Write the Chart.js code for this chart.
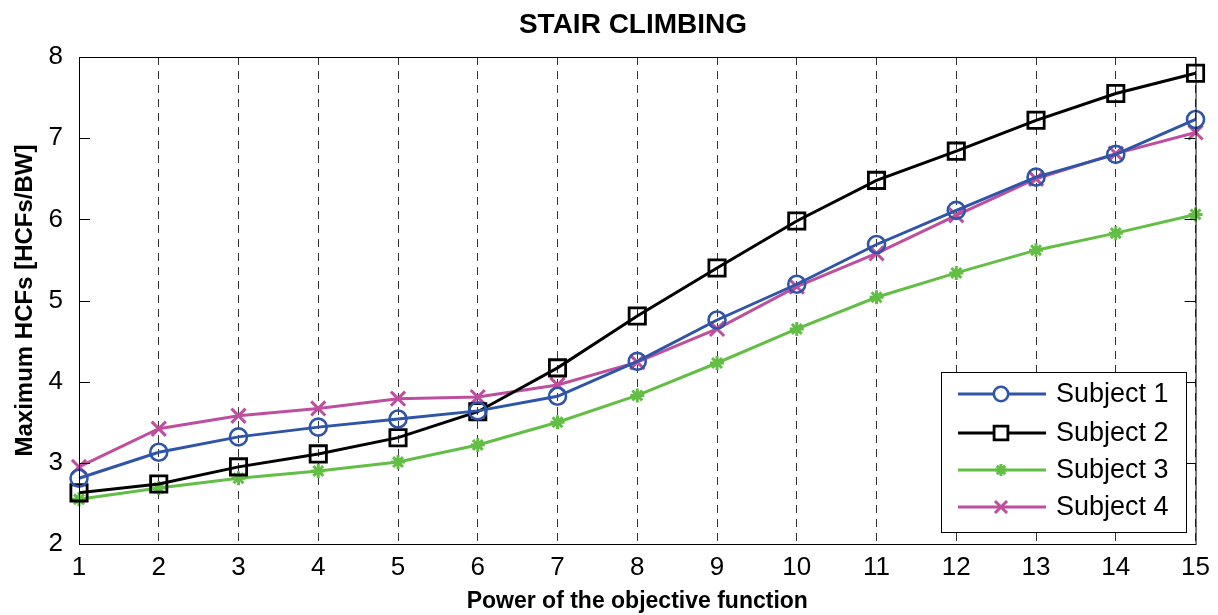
<!DOCTYPE html>
<html>
<head>
<meta charset="utf-8">
<script src="https://cdn.jsdelivr.net/npm/chart.js@4/dist/chart.umd.min.js"></script>
<style>
  html, body { margin: 0; padding: 0; background: #fff; }
  #wrap { width: 1218px; height: 615px; }
</style>
</head>
<body>
<div id="wrap"><canvas id="stairChart" width="1218" height="615"></canvas></div>
<script>
const powers = ['1','2','3','4','5','6','7','8','9','10','11','12','13','14','15'];
const subject1 = [2.81, 3.13, 3.32, 3.44, 3.54, 3.64, 3.82, 4.25, 4.76, 5.20, 5.69, 6.11, 6.52, 6.80, 7.23];
const subject2 = [2.63, 2.74, 2.95, 3.11, 3.31, 3.63, 4.17, 4.81, 5.40, 5.98, 6.48, 6.84, 7.22, 7.55, 7.80];
const subject3 = [2.55, 2.69, 2.81, 2.90, 3.01, 3.22, 3.50, 3.83, 4.23, 4.65, 5.04, 5.34, 5.62, 5.83, 6.06];
const subject4 = [2.95, 3.42, 3.58, 3.67, 3.79, 3.81, 3.96, 4.24, 4.65, 5.17, 5.58, 6.05, 6.50, 6.81, 7.07];
const yTicks = [2, 3, 4, 5, 6, 7, 8];

const FONT = '"Liberation Sans", Arial, sans-serif';
const BLUE = '#2f55a8';
const GREEN = '#62be44';
const MAGENTA = '#be4f9e';

function series(label, data, color, style, radius, bw) {
    return {
        label: label,
        data: data,
        borderColor: color,
        backgroundColor: 'rgba(0,0,0,0)',
        borderWidth: 3,
        pointStyle: style,
        pointRadius: radius,
        pointHoverRadius: radius,
        pointBorderWidth: bw,
        pointBorderColor: color,
        pointBackgroundColor: 'rgba(0,0,0,0)',
        tension: 0
    };
}

// box, inner ticks, title and legend drawn like the matlab figure
const matlabFrame = {
    id: 'matlabFrame',
    afterDraw(chart) {
        const ctx = chart.ctx;
        const a = chart.chartArea;
        const ys = chart.scales.y;
        ctx.save();
        ctx.strokeStyle = '#000';
        ctx.lineWidth = 1;
        ctx.strokeRect(a.left + 0.5, a.top + 0.5, a.right - a.left, a.bottom - a.top);
        yTicks.forEach(v => {
            const py = Math.round(ys.getPixelForValue(v)) + 0.5;
            ctx.beginPath();
            ctx.moveTo(a.left, py); ctx.lineTo(a.left + 11, py);
            ctx.moveTo(a.right, py); ctx.lineTo(a.right - 11, py);
            ctx.stroke();
        });

        // title
        ctx.fillStyle = '#000';
        ctx.font = 'bold 28px ' + FONT;
        ctx.textAlign = 'center';
        ctx.textBaseline = 'middle';
        ctx.fillText('STAIR CLIMBING', 633, 25);

        // legend
        const lx = 941, ly = 372, lw = 245, lh = 160;
        ctx.fillStyle = '#fff';
        ctx.fillRect(lx, ly, lw, lh);
        ctx.strokeStyle = '#000';
        ctx.lineWidth = 1;
        ctx.strokeRect(lx + 0.5, ly + 0.5, lw, lh);
        const rows = [394, 433, 470, 507];
        ctx.font = '27px ' + FONT;
        ctx.textAlign = 'left';
        chart.data.datasets.forEach((ds, i) => {
            const y = rows[i];
            ctx.strokeStyle = ds.borderColor;
            ctx.lineWidth = 3;
            ctx.beginPath();
            ctx.moveTo(958, y); ctx.lineTo(1046, y);
            ctx.stroke();
            ctx.fillStyle = '#fff';
            ctx.lineWidth = ds.pointBorderWidth;
            Chart.helpers.drawPoint(ctx, {
                pointStyle: ds.pointStyle, radius: ds.pointRadius * 0.85,
                borderWidth: ds.pointBorderWidth, rotation: 0
            }, 1001, y);
            ctx.fillStyle = '#000';
            ctx.fillText(ds.label, 1056, y + 1);
        });
        ctx.restore();
    }
};

const ctx = document.getElementById('stairChart').getContext('2d');
const chart = new Chart(ctx, {
    type: 'line',
    data: {
        labels: powers,
        datasets: [
            series('Subject 1', subject1, BLUE, 'circle', 8.5, 2.6),
            series('Subject 2', subject2, '#000000', 'rect', 11.5, 2.8),
            series('Subject 3', subject3, GREEN, 'star', 7, 3),
            series('Subject 4', subject4, MAGENTA, 'crossRot', 10, 3)
        ]
    },
    options: {
        responsive: false,
        animation: false,
        layout: { padding: { top: 57, right: 19, left: 0, bottom: 0 } },
        plugins: {
            legend: { display: false },
            title: { display: false },
            tooltip: { enabled: false }
        },
        scales: {
            x: {
                type: 'category',
                offset: false,
                afterFit: s => { s.height = 71; },
                grid: {
                    color: '#333',
                    lineWidth: 1,
                    drawTicks: false
                },
                border: { display: true, color: '#000', dash: [8, 6] },
                ticks: {
                    color: '#000',
                    padding: 8,
                    maxRotation: 0,
                    autoSkip: false,
                    font: { family: FONT, size: 26 }
                },
                title: {
                    display: true,
                    text: 'Power of the objective function',
                    color: '#000',
                    padding: { top: 0, bottom: 0 },
                    font: { family: FONT, size: 23, weight: 'bold' }
                }
            },
            y: {
                min: 2,
                max: 8,
                afterFit: s => { s.width = 79; },
                afterBuildTicks: s => { s.ticks = yTicks.map(v => ({ value: v })); },
                grid: { display: false },
                border: { display: true, color: '#000' },
                ticks: {
                    color: '#000',
                    padding: 8,
                    font: { family: FONT, size: 26 }
                },
                title: {
                    display: true,
                    text: 'Maximum HCFs [HCFs/BW]',
                    color: '#000',
                    padding: { top: 11, bottom: 0 },
                    font: { family: FONT, size: 24, weight: 'bold' }
                }
            }
        }
    },
    plugins: [matlabFrame]
});
</script>
</body>
</html>
